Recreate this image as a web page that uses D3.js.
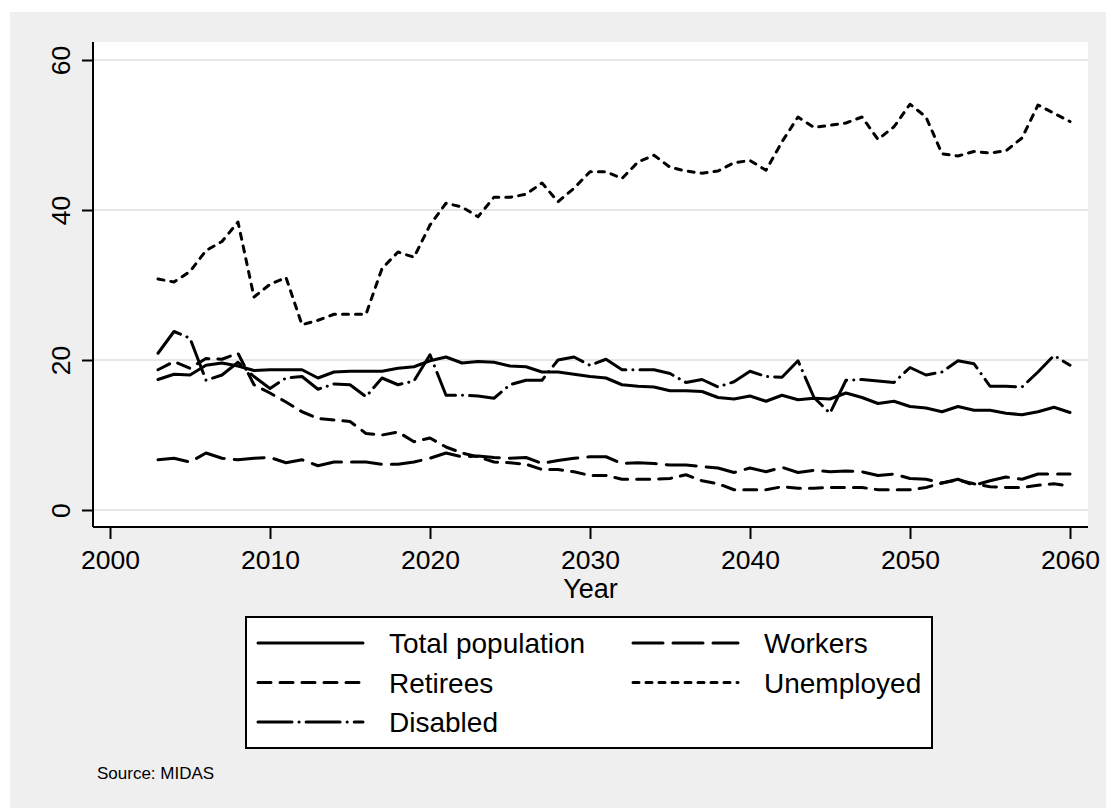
<!DOCTYPE html>
<html>
<head>
<meta charset="utf-8">
<script src="https://cdn.jsdelivr.net/npm/d3@7"></script>
<style>
  body { margin: 0; background: #fff; }
  text { font-family: "Liberation Sans", Arial, sans-serif; fill: #000; }
</style>
</head>
<body>
<div id="chart"></div>
<script>
// data
var years = d3.range(2003, 2061);
var totalPop = [17.4, 18.1, 18.0, 19.3, 19.6, 19.2, 18.6, 18.7, 18.7, 18.7,
  17.6, 18.4, 18.5, 18.5, 18.5, 18.9, 19.1, 19.9, 20.4, 19.6,
  19.8, 19.7, 19.2, 19.1, 18.4, 18.4, 18.1, 17.8, 17.6, 16.7,
  16.5, 16.4, 15.9, 15.9, 15.8, 15.0, 14.8, 15.2, 14.5, 15.3,
  14.7, 14.9, 14.8, 15.6, 15.0, 14.2, 14.5, 13.8, 13.6, 13.1,
  13.8, 13.3, 13.3, 12.9, 12.7, 13.1, 13.7, 13.0];
var workers = [6.7, 6.9, 6.4, 7.6, 6.9, 6.7, 6.9, 7.0, 6.3, 6.7,
  5.9, 6.4, 6.4, 6.4, 6.1, 6.1, 6.4, 6.9, 7.6, 7.1,
  7.2, 7.0, 6.9, 7.0, 6.2, 6.6, 6.9, 7.1, 7.1, 6.2,
  6.3, 6.2, 6.0, 6.0, 5.8, 5.6, 5.0, 5.6, 5.1, 5.7,
  5.0, 5.3, 5.1, 5.2, 5.1, 4.6, 4.8, 4.2, 4.1, 3.6,
  4.1, 3.3, 3.9, 4.4, 4.1, 4.8, 4.8, 4.8];
var retirees = [18.7, 19.8, 18.9, 20.2, 20.1, 20.9, 16.7, 15.6, 14.4, 13.1,
  12.2, 12.0, 11.8, 10.2, 10.0, 10.4, 9.1, 9.6, 8.4, 7.6,
  7.1, 6.4, 6.3, 6.1, 5.4, 5.4, 5.1, 4.6, 4.6, 4.1,
  4.1, 4.1, 4.2, 4.7, 3.9, 3.5, 2.7, 2.7, 2.7, 3.1,
  2.9, 2.9, 3.0, 3.0, 3.0, 2.7, 2.7, 2.7, 3.0, 3.6,
  4.0, 3.5, 3.1, 3.0, 3.0, 3.3, 3.5, 3.2];
var unemployed = [30.8, 30.4, 31.8, 34.6, 35.8, 38.4, 28.4, 30.1, 31.0, 24.7,
  25.3, 26.1, 26.1, 26.1, 32.2, 34.4, 33.7, 38.0, 40.9, 40.4,
  39.1, 41.7, 41.7, 42.1, 43.6, 41.1, 42.9, 45.1, 45.1, 44.2,
  46.4, 47.3, 45.7, 45.2, 44.9, 45.2, 46.3, 46.6, 45.3, 49.1,
  52.4, 51.0, 51.3, 51.6, 52.4, 49.4, 51.1, 54.1, 52.4, 47.5,
  47.2, 47.8, 47.6, 47.9, 49.6, 54.0, 52.9, 51.8];
var disabled = [20.9, 23.8, 22.9, 17.3, 18.0, 19.7, 17.8, 16.2, 17.6, 17.8,
  16.1, 16.8, 16.7, 15.1, 17.6, 16.7, 17.2, 20.7, 15.3, 15.3,
  15.2, 14.9, 16.7, 17.3, 17.3, 20.0, 20.4, 19.3, 20.1, 18.7,
  18.7, 18.7, 18.2, 17.0, 17.4, 16.4, 17.1, 18.5, 17.8, 17.7,
  19.9, 15.0, 12.9, 17.3, 17.4, 17.2, 17.0, 19.0, 18.0, 18.4,
  19.9, 19.5, 16.5, 16.5, 16.4, 18.4, 20.6, 19.3];

var seriesNames = ["Total population", "Workers", "Retirees", "Unemployed", "Disabled"];
var seriesValues = [totalPop, workers, retirees, unemployed, disabled];
var xTicks = [2000, 2010, 2020, 2030, 2040, 2050, 2060];
var yTicks = [0, 20, 40, 60];

// line patterns (round caps add ~3px to each dash)
var dashes = ["none", "30,10", "13,9", "6,7", "34,7,0.1,7"];

// svg container
var svgWidth = 1106, svgHeight = 810;

// plot region (white box)
var plot = { left: 93, top: 42, right: 1088, bottom: 527 };

var svg = d3.select("#chart").append("svg")
    .attr("width", svgWidth)
    .attr("height", svgHeight);

// gray graph region
svg.append("rect")
    .attr("x", 10).attr("y", 12)
    .attr("width", svgWidth - 10).attr("height", 796)
    .attr("fill", "#efefef");

svg.append("rect")
    .attr("x", plot.left).attr("y", plot.top)
    .attr("width", plot.right - plot.left)
    .attr("height", plot.bottom - plot.top)
    .attr("fill", "#fff");

// scales
var xScale = d3.scaleLinear().domain([2000, 2060]).range([110, 1070]);
var yScale = d3.scaleLinear().domain([0, 60]).range([510, 60]);

// grid lines
svg.append("g").selectAll("line")
    .data(yTicks)
    .enter().append("line")
    .attr("x1", plot.left).attr("x2", plot.right)
    .attr("y1", d => yScale(d)).attr("y2", d => yScale(d))
    .attr("stroke", "#e6e6e6")
    .attr("stroke-width", 2);

// y axis
var yAxis = d3.axisLeft(yScale).tickValues(yTicks).tickSize(11).tickSizeOuter(0);
var gy = svg.append("g")
    .attr("transform", `translate(${plot.left},0)`)
    .call(yAxis);
gy.select(".domain").remove();
gy.selectAll(".tick line").attr("stroke", "#000").attr("stroke-width", 2);
gy.selectAll(".tick text")
    .attr("x", 0).attr("y", 0)
    .attr("dy", 0)
    .attr("transform", "translate(-23,0) rotate(-90)")
    .attr("text-anchor", "middle")
    .style("font-size", "26.5px")
    .style("font-family", "'Liberation Sans', Arial, sans-serif");

// x axis
var xAxis = d3.axisBottom(xScale).tickValues(xTicks).tickFormat(d3.format("d")).tickSize(12).tickSizeOuter(0);
var gx = svg.append("g")
    .attr("transform", `translate(0,${plot.bottom})`)
    .call(xAxis);
gx.select(".domain").remove();
gx.selectAll(".tick line").attr("stroke", "#000").attr("stroke-width", 2);
gx.selectAll(".tick text")
    .attr("y", 42).attr("dy", 0)
    .style("font-size", "26.5px")
    .style("font-family", "'Liberation Sans', Arial, sans-serif");

// axis lines
svg.append("line")
    .attr("x1", plot.left).attr("x2", plot.left)
    .attr("y1", plot.top).attr("y2", plot.bottom)
    .attr("stroke", "#000").attr("stroke-width", 2);
svg.append("line")
    .attr("x1", plot.left).attr("x2", plot.right)
    .attr("y1", plot.bottom).attr("y2", plot.bottom)
    .attr("stroke", "#000").attr("stroke-width", 2);

svg.append("text")
    .attr("x", (plot.left + plot.right) / 2)
    .attr("y", 598)
    .attr("text-anchor", "middle")
    .style("font-size", "27px")
    .text("Year");

// lines
var line = d3.line()
    .x((d, i) => xScale(years[i]))
    .y(d => yScale(d));

svg.append("g").selectAll("path")
    .data(seriesValues)
    .enter().append("path")
    .attr("d", d => line(d))
    .attr("fill", "none")
    .attr("stroke", "#000")
    .attr("stroke-width", 3)
    .attr("stroke-linejoin", "round")
    .attr("stroke-linecap", "round")
    .attr("stroke-dasharray", (d, i) => dashes[i]);

// legend
var legend = svg.append("g");
legend.append("rect")
    .attr("x", 246).attr("y", 617)
    .attr("width", 686).attr("height", 131)
    .attr("fill", "#fff")
    .attr("stroke", "#000")
    .attr("stroke-width", 2);

var legendItems = legend.selectAll(".item")
    .data(seriesNames)
    .enter().append("g")
    .attr("class", "item")
    .attr("transform", (d, i) => `translate(${i % 2 === 0 ? 258 : 633},${643 + Math.floor(i / 2) * 39.5})`);

legendItems.append("line")
    .attr("x1", 0).attr("x2", 105)
    .attr("y1", 0).attr("y2", 0)
    .attr("stroke", "#000")
    .attr("stroke-width", 3)
    .attr("stroke-linecap", "round")
    .attr("stroke-dasharray", (d, i) => dashes[i]);

legendItems.append("text")
    .attr("x", 131)
    .attr("y", 10)
    .style("font-size", "28px")
    .text(d => d);

svg.append("text")
    .attr("x", 97).attr("y", 779)
    .style("font-size", "17px")
    .text("Source: MIDAS");
</script>
</body>
</html>
